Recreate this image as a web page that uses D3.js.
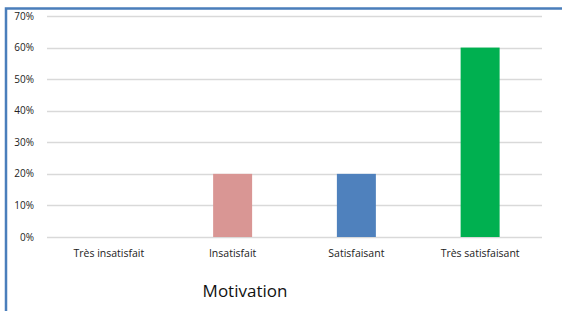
<!doctype html>
<html lang="fr">
<head>
  <meta charset="utf-8">
  <script src="https://d3js.org/d3.v7.min.js"></script>
  <style>
    body { margin: 0; background: #fff; }
    svg { display: block; }
  </style>
</head>
<body>
  <svg id="chart"></svg>
  <script>
    // data
    const categories = ["Très insatisfait", "Insatisfait", "Satisfaisant", "Très satisfaisant"];
    const values = [0, 0.2, 0.2, 0.6];
    const barColors = ["#D99694", "#D99694", "#4F81BD", "#00B050"];
    const yTicks = [0, 0.1, 0.2, 0.3, 0.4, 0.5, 0.6, 0.7];
    const axisTitle = "Motivation";

    const width = 562, height = 311;
    const margin = {top: 16, right: 20, bottom: 74, left: 47};
    const font = "'Open Sans', 'Noto Sans', sans-serif";

    const svg = d3.select("#chart")
      .attr("width", width)
      .attr("height", height);

    // frame (top + left edge of the chart object)
    svg.append("path")
      .attr("d", `M6,${height} V8.5 H${width}`)
      .attr("fill", "none")
      .attr("stroke", "#4A7EBB")
      .attr("stroke-width", 2.5);

    const x = d3.scaleBand()
      .domain(categories)
      .range([margin.left, width - margin.right])
      .paddingInner(0.685)
      .paddingOuter(0.3425);

    const y = d3.scaleLinear()
      .domain([0, 0.7])
      .range([height - margin.bottom, margin.top]);

    // gridlines
    svg.append("g")
      .selectAll("line")
      .data(yTicks)
      .join("line")
        .attr("x1", margin.left)
        .attr("x2", width - margin.right)
        .attr("y1", d => Math.round(y(d)) + 0.5)
        .attr("y2", d => Math.round(y(d)) + 0.5)
        .attr("stroke", "#D9D9D9")
        .attr("stroke-width", 1.5);

    // y axis labels
    svg.append("g")
      .selectAll("text")
      .data(yTicks)
      .join("text")
        .attr("x", 34)
        .attr("y", d => y(d))
        .attr("dy", "0.35em")
        .attr("text-anchor", "end")
        .attr("font-family", font)
        .attr("font-size", 10)
        .attr("fill", "#222")
        .text(d => d3.format(".0%")(d));

    // bars
    svg.append("g")
      .selectAll("rect")
      .data(values)
      .join("rect")
        .attr("x", (d, i) => x(categories[i]))
        .attr("width", x.bandwidth())
        .attr("y", d => y(d))
        .attr("height", d => y(0) - y(d))
        .attr("fill", (d, i) => barColors[i]);

    // category labels
    svg.append("g")
      .selectAll("text")
      .data(categories)
      .join("text")
        .attr("x", d => x(d) + x.bandwidth() / 2)
        .attr("y", 257)
        .attr("text-anchor", "middle")
        .attr("font-family", font)
        .attr("font-size", 10.5)
        .attr("fill", "#222")
        .text(d => d);

    svg.append("text")
      .attr("x", 245)
      .attr("y", 297)
      .attr("text-anchor", "middle")
      .attr("font-family", font)
      .attr("font-size", 17)
      .attr("fill", "#111")
      .text(axisTitle);
  </script>
</body>
</html>
